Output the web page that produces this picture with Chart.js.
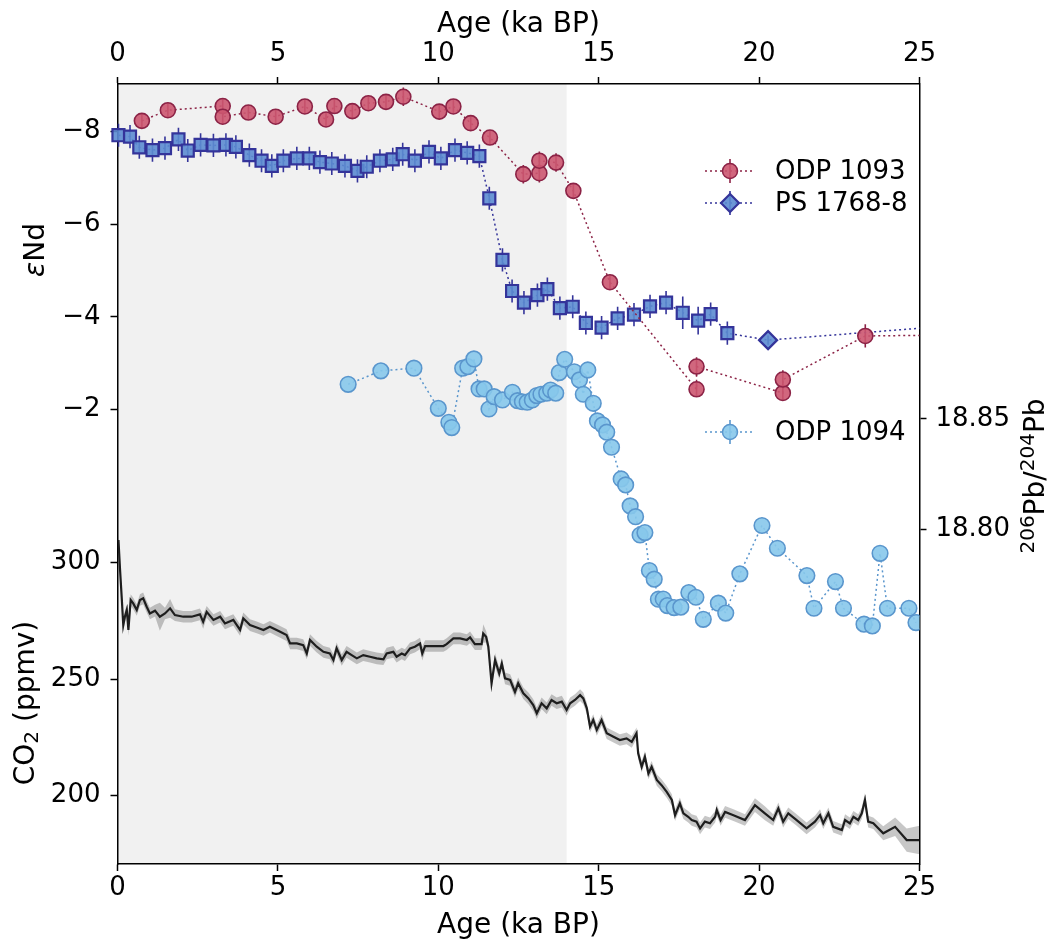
<!DOCTYPE html>
<html>
<head>
<meta charset="utf-8">
<script src="https://cdn.jsdelivr.net/npm/chart.js@4.4.0/dist/chart.umd.min.js"></script>
<style>
  body { margin: 0; background: #fff; }
  #wrap { width: 1052px; height: 947px; }
</style>
</head>
<body>
<div id="wrap"><canvas id="myChart" width="1052" height="947"></canvas></div>
<script>
// tick labels
var ageTicks = [0, 5, 10, 15, 20, 25];
var ndTicks = [-8, -6, -4, -2];
var co2Ticks = [300, 250, 200];
var pbTicks = [18.80, 18.85];

// ODP 1093 (eNd)
var odp1093Age = [0.76, 1.57, 3.28, 3.28, 4.08, 4.93, 5.84, 6.50, 6.76, 7.32,
                  7.82, 8.37, 8.91, 10.03, 10.47, 11.01, 11.61, 12.65, 13.15, 13.15,
                  13.67, 14.21, 15.35, 18.05, 18.05, 20.74, 20.74, 23.31, 27.5];
var odp1093Nd = [-8.23, -8.46, -8.55, -8.32, -8.41, -8.32, -8.54, -8.26, -8.55, -8.44,
                 -8.61, -8.64, -8.75, -8.43, -8.54, -8.18, -7.87, -7.08, -7.10, -7.37,
                 -7.33, -6.72, -4.75, -2.44, -2.93, -2.36, -2.65, -3.59, -3.62];
var odp1093Err = [0.15, 0.15, 0.15, 0.15, 0.15, 0.15, 0.15, 0.15, 0.15, 0.15,
                  0.15, 0.15, 0.2, 0.15, 0.15, 0.15, 0.15, 0.2, 0.2, 0.2,
                  0.2, 0.15, 0.15, 0.15, 0.2, 0.15, 0.2, 0.25, 0.2];

// PS 1768-8 (eNd)
var ps1768Age = [0.03, 0.39, 0.68, 1.09, 1.48, 1.90, 2.19, 2.59, 2.99, 3.38,
                 3.69, 4.11, 4.49, 4.81, 5.17, 5.59, 5.98, 6.31, 6.68, 7.09,
                 7.48, 7.77, 8.18, 8.58, 8.89, 9.27, 9.71, 10.08, 10.52, 10.90,
                 11.28, 11.59, 12.00, 12.30, 12.67, 13.09, 13.40, 13.79, 14.19, 14.60,
                 15.09, 15.59, 16.10, 16.60, 17.10, 17.62, 18.10, 18.49, 19.01, 20.28,
                 28.0];
var ps1768Nd = [-7.92, -7.89, -7.66, -7.60, -7.64, -7.83, -7.59, -7.71, -7.70, -7.71,
                -7.67, -7.49, -7.37, -7.26, -7.37, -7.42, -7.42, -7.34, -7.31, -7.26,
                -7.15, -7.24, -7.37, -7.40, -7.51, -7.37, -7.56, -7.42, -7.60, -7.54,
                -7.47, -6.56, -5.23, -4.56, -4.31, -4.47, -4.60, -4.19, -4.22, -3.87,
                -3.77, -3.97, -4.05, -4.23, -4.31, -4.09, -3.92, -4.06, -3.65, -3.50,
                -3.92];
var ps1768Err = [0.25, 0.25, 0.25, 0.25, 0.25, 0.25, 0.25, 0.25, 0.25, 0.25,
                 0.25, 0.25, 0.25, 0.25, 0.25, 0.25, 0.25, 0.25, 0.25, 0.25,
                 0.25, 0.25, 0.25, 0.25, 0.25, 0.25, 0.25, 0.25, 0.25, 0.25,
                 0.25, 0.25, 0.25, 0.25, 0.25, 0.25, 0.25, 0.25, 0.25, 0.25,
                 0.25, 0.25, 0.25, 0.25, 0.25, 0.35, 0.3, 0.25, 0.25, 0.1,
                 0.1];

// ODP 1094 (206Pb/204Pb)
var odp1094Age = [7.19, 8.21, 9.24, 10.00, 10.33, 10.42, 10.76, 10.92, 11.11, 11.27,
                  11.43, 11.58, 11.74, 12.00, 12.31, 12.47, 12.62, 12.77, 12.93, 13.07,
                  13.20, 13.38, 13.50, 13.66, 13.77, 13.94, 14.24, 14.40, 14.52, 14.66,
                  14.83, 14.96, 15.12, 15.25, 15.40, 15.70, 15.84, 15.98, 16.15, 16.29,
                  16.44, 16.58, 16.73, 16.86, 17.01, 17.14, 17.35, 17.56, 17.81, 18.03,
                  18.26, 18.73, 18.96, 19.40, 20.09, 20.57, 21.49, 21.71, 22.38, 22.63,
                  23.27, 23.53, 23.77, 24.00, 24.67, 24.89];
var odp1094Pb = [18.8657, 18.8718, 18.8730, 18.8548, 18.8485, 18.8461, 18.8730, 18.8737, 18.8772, 18.8636,
                 18.8636, 18.8545, 18.8601, 18.8586, 18.8621, 18.8583, 18.8578, 18.8576, 18.8586, 18.8606,
                 18.8612, 18.8617, 18.8631, 18.8617, 18.8710, 18.8770, 18.8714, 18.8677, 18.8612, 18.8722,
                 18.8571, 18.8491, 18.8473, 18.8440, 18.8372, 18.8228, 18.8201, 18.8106, 18.8057, 18.7974,
                 18.7985, 18.7813, 18.7774, 18.7683, 18.7684, 18.7654, 18.7645, 18.7647, 18.7713, 18.7692,
                 18.7592, 18.7665, 18.7620, 18.7798, 18.8017, 18.7914, 18.7790, 18.7642, 18.7763, 18.7642,
                 18.7570, 18.7562, 18.7891, 18.7642, 18.7642, 18.7577];

// CO2 (ppmv)
var co2Age = [0.03, 0.08, 0.13, 0.18, 0.23, 0.29, 0.34, 0.41, 0.49, 0.60,
              0.70, 0.80, 0.91, 1.01, 1.17, 1.32, 1.48, 1.64, 1.79, 2.05,
              2.31, 2.57, 2.67, 2.78, 2.99, 3.20, 3.35, 3.61, 3.82, 3.92,
              4.13, 4.34, 4.55, 4.75, 5.07, 5.27, 5.38, 5.59, 5.79, 5.90,
              6.00, 6.21, 6.42, 6.62, 6.73, 6.83, 6.99, 7.14, 7.30, 7.46,
              7.66, 7.87, 8.08, 8.29, 8.39, 8.60, 8.70, 8.86, 8.96, 9.12,
              9.27, 9.43, 9.50, 9.59, 9.84, 10.16, 10.26, 10.47, 10.68, 10.89,
              10.99, 11.14, 11.35, 11.40, 11.49, 11.56, 11.66, 11.77, 11.90, 11.98,
              12.08, 12.24, 12.39, 12.49, 12.65, 12.81, 12.96, 13.07, 13.22, 13.38,
              13.53, 13.69, 13.85, 14.00, 14.11, 14.26, 14.42, 14.52, 14.63, 14.73,
              14.83, 14.94, 15.09, 15.25, 15.46, 15.66, 15.87, 16.03, 16.18, 16.23,
              16.34, 16.44, 16.55, 16.65, 16.81, 16.96, 17.12, 17.28, 17.38, 17.53,
              17.64, 17.79, 17.90, 18.05, 18.16, 18.31, 18.47, 18.63, 18.68, 18.80,
              18.94, 19.20, 19.56, 19.87, 20.18, 20.44, 20.60, 20.75, 20.91, 21.17,
              21.48, 21.74, 21.90, 22.00, 22.16, 22.31, 22.58, 22.68, 22.83, 22.94,
              23.09, 23.20, 23.30, 23.40, 23.56, 23.87, 24.24, 24.60, 24.96, 25.00];
var co2Val = [309.8, 296.9, 285.4, 273.2, 276.8, 279.7, 271.1, 284.0, 282.5, 279.7,
              284.0, 284.7, 281.1, 278.2, 279.4, 276.8, 278.2, 280.4, 277.5, 276.8,
              276.8, 277.8, 274.6, 278.9, 275.4, 276.8, 273.9, 275.4, 271.1, 276.1,
              273.2, 272.2, 271.1, 272.5, 270.3, 268.9, 265.3, 265.3, 264.6, 261.0,
              266.8, 263.9, 261.7, 261.0, 258.2, 263.2, 258.2, 261.7, 260.3, 258.9,
              260.3, 259.6, 258.9, 258.5, 261.0, 261.7, 259.6, 261.0, 260.3, 263.2,
              263.9, 265.3, 261.0, 264.2, 264.2, 264.2, 265.0, 267.5, 267.5, 266.8,
              267.9, 265.0, 265.0, 269.6, 268.2, 263.9, 248.2, 258.2, 252.4, 256.7,
              250.3, 249.6, 244.5, 248.2, 243.9, 241.7, 238.8, 235.3, 239.6, 237.4,
              241.0, 239.6, 240.3, 236.7, 239.6, 241.0, 243.1, 241.7, 237.4, 229.5,
              232.4, 228.1, 232.4, 226.7, 225.2, 223.8, 224.5, 223.0, 226.7, 218.1,
              212.3, 216.6, 209.4, 212.3, 206.6, 204.4, 201.5, 198.0, 191.5, 196.6,
              192.3, 190.8, 189.4, 188.7, 185.8, 188.7, 188.0, 190.8, 193.7, 189.4,
              192.9, 191.5, 189.4, 195.8, 192.3, 189.4, 194.4, 188.7, 192.3, 189.4,
              185.8, 188.7, 191.5, 188.0, 192.3, 186.5, 185.1, 189.4, 188.0, 190.8,
              189.4, 192.3, 198.0, 188.7, 188.0, 183.7, 186.5, 180.8, 180.8, 180.8];
var co2Err = [2.5, 2.5, 2.5, 2.5, 2.5, 2.5, 2.5, 2.5, 2.5, 2.5,
              2.5, 2.5, 2.5, 2.5, 2.5, 6.0, 2.5, 4.0, 2.5, 2.5,
              2.5, 2.5, 3.0, 2.5, 2.5, 2.5, 2.5, 2.5, 2.5, 2.5,
              2.5, 2.5, 2.5, 2.5, 2.5, 2.5, 2.5, 2.5, 2.5, 2.5,
              2.5, 2.5, 2.5, 2.5, 2.5, 2.5, 2.5, 2.5, 2.5, 2.5,
              2.5, 2.5, 2.5, 2.5, 2.5, 2.5, 2.5, 2.5, 2.5, 2.5,
              2.5, 2.5, 3.0, 2.5, 2.5, 2.5, 2.5, 2.5, 2.5, 2.5,
              2.5, 2.5, 2.5, 4.0, 2.5, 2.5, 3.0, 3.0, 2.5, 2.5,
              2.5, 2.5, 2.5, 2.5, 2.5, 2.5, 2.5, 2.5, 2.5, 2.5,
              2.5, 2.5, 2.5, 2.5, 2.5, 2.5, 2.5, 2.5, 2.5, 2.5,
              2.5, 2.5, 2.5, 2.5, 2.5, 2.5, 2.5, 2.5, 2.5, 2.5,
              2.5, 2.5, 2.5, 2.5, 2.5, 2.5, 2.5, 2.5, 2.5, 2.5,
              2.5, 2.5, 2.5, 2.5, 2.5, 2.5, 2.5, 2.5, 2.5, 2.5,
              2.5, 2.5, 2.5, 3.0, 3.0, 2.5, 2.5, 2.5, 2.5, 2.5,
              2.5, 2.5, 2.5, 2.5, 2.5, 2.5, 2.5, 2.5, 2.5, 2.5,
              2.5, 2.5, 3.0, 2.5, 2.5, 3.0, 4.0, 5.0, 6.0, 6.0];

// axis ranges so that the stacked panels line up like the figure
var ND_MIN = -9.025, ND_MAX = 7.80;
var CO2_MIN = 170.5, CO2_MAX = 505.8;
var PB_MIN = 18.6483, PB_MAX = 19.0018;

var RED = 'rgba(204, 86, 112, 0.9)', RED_EDGE = '#8c2346';
var BLUE = 'rgba(92, 140, 210, 0.9)', BLUE_EDGE = '#34349a';
var SKY = 'rgba(135, 200, 235, 0.9)', SKY_EDGE = '#5a96cd';

function pts(xs, ys) {
    return xs.map(function(x, i) { return {x: x, y: ys[i]}; });
}
function co2ToNd(v) {
    return ND_MIN + (CO2_MAX - v) / (CO2_MAX - CO2_MIN) * (ND_MAX - ND_MIN);
}

var leftTicks = ndTicks.map(function(v) { return {value: v, label: '\u2212' + Math.abs(v)}; })
    .concat(co2Ticks.map(function(v) { return {value: co2ToNd(v), label: String(v)}; }));

var co2Hi = co2Val.map(function(v, i) { return v + co2Err[i]; });
var co2Lo = co2Val.map(function(v, i) { return v - co2Err[i]; });

Chart.defaults.font.family = "'DejaVu Sans', sans-serif";
Chart.defaults.color = '#000';

var tickFont = {size: 26};
var gridOpts = {drawOnChartArea: false, color: '#000', tickColor: '#000', tickWidth: 1.5, tickLength: 7};
var borderOpts = {color: '#000', width: 1.5};

var shade = {
    id: 'shade',
    beforeDraw: function(chart) {
        var a = chart.chartArea, x = chart.scales.x, ctx = chart.ctx;
        ctx.save();
        ctx.fillStyle = '#f1f1f1';
        var x0 = x.getPixelForValue(0), x1 = x.getPixelForValue(14);
        ctx.fillRect(x0, a.top, x1 - x0, a.bottom - a.top);
        ctx.restore();
    }
};

var errorBars = {
    id: 'errorBars',
    beforeDatasetsDraw: function(chart) {
        var ctx = chart.ctx, a = chart.chartArea;
        ctx.save();
        ctx.beginPath();
        ctx.rect(a.left - 10, a.top, a.right - a.left + 10, a.bottom - a.top);
        ctx.clip();
        chart.data.datasets.forEach(function(ds) {
            if (!ds.errs) return;
            var xs = chart.scales[ds.xAxisID || 'x'], ys = chart.scales[ds.yAxisID];
            ctx.strokeStyle = ds.borderColor;
            ctx.lineWidth = 1.6;
            ds.data.forEach(function(p, i) {
                var px = xs.getPixelForValue(p.x);
                ctx.beginPath();
                ctx.moveTo(px, ys.getPixelForValue(p.y - ds.errs[i]));
                ctx.lineTo(px, ys.getPixelForValue(p.y + ds.errs[i]));
                ctx.stroke();
            });
        });
        ctx.restore();
    }
};

function richText(ctx, parts, cx, cy, rot, size) {
    ctx.save();
    ctx.translate(cx, cy);
    ctx.rotate(rot);
    ctx.textBaseline = 'middle';
    ctx.textAlign = 'left';
    ctx.fillStyle = '#000';
    var total = 0;
    parts.forEach(function(p) {
        ctx.font = (p.italic ? 'italic ' : '') + Math.round(size * (p.scale || 1)) + "px 'DejaVu Sans'";
        p.w = ctx.measureText(p.t).width;
        total += p.w;
    });
    var x = -total / 2;
    parts.forEach(function(p) {
        ctx.font = (p.italic ? 'italic ' : '') + Math.round(size * (p.scale || 1)) + "px 'DejaVu Sans'";
        ctx.fillText(p.t, x, (p.dy || 0) * size);
        x += p.w;
    });
    ctx.restore();
}

function marker(ctx, style, x, y, r, fill, edge, bw) {
    ctx.beginPath();
    if (style === 'circle') {
        ctx.arc(x, y, r, 0, Math.PI * 2);
    } else if (style === 'rectRot') {
        ctx.moveTo(x, y - r); ctx.lineTo(x + r, y); ctx.lineTo(x, y + r); ctx.lineTo(x - r, y); ctx.closePath();
    }
    ctx.fillStyle = fill;
    ctx.fill();
    ctx.lineWidth = bw;
    ctx.strokeStyle = edge;
    ctx.stroke();
}

var annotate = {
    id: 'annotate',
    afterDraw: function(chart) {
        var ctx = chart.ctx;
        // legend
        var items = [
            {label: 'ODP 1093', y: 171, style: 'circle', r: 7.5, fill: RED, edge: RED_EDGE},
            {label: 'PS 1768-8', y: 203, style: 'rectRot', r: 9, fill: BLUE, edge: BLUE_EDGE},
            {label: 'ODP 1094', y: 432, style: 'circle', r: 7.5, fill: SKY, edge: SKY_EDGE}
        ];
        items.forEach(function(it) {
            ctx.save();
            ctx.strokeStyle = it.edge;
            ctx.lineWidth = 1.5;
            ctx.setLineDash([2, 3]);
            ctx.beginPath();
            ctx.moveTo(705, it.y); ctx.lineTo(755, it.y);
            ctx.stroke();
            ctx.setLineDash([]);
            ctx.lineWidth = 1.6;
            ctx.beginPath();
            ctx.moveTo(730, it.y - 12); ctx.lineTo(730, it.y + 12);
            ctx.stroke();
            marker(ctx, it.style, 730, it.y, it.r, it.fill, it.edge, it.style === 'rectRot' ? 2.2 : 1.5);
            ctx.fillStyle = '#000';
            ctx.font = "26px 'DejaVu Sans'";
            ctx.textBaseline = 'middle';
            ctx.textAlign = 'left';
            ctx.fillText(it.label, 775, it.y + 1);
            ctx.restore();
        });
        // y axis titles
        richText(ctx, [{t: '\u03b5', italic: true}, {t: 'Nd'}], 37, 250, -Math.PI / 2, 28);
        richText(ctx, [{t: 'CO'}, {t: '2', scale: 0.7, dy: 0.22}, {t: ' (ppmv)'}], 27, 703, -Math.PI / 2, 28);
        richText(ctx, [{t: '206', scale: 0.7, dy: -0.3}, {t: 'Pb/'}, {t: '204', scale: 0.7, dy: -0.3}, {t: 'Pb'}],
                 1037, 476, -Math.PI / 2, 28);
    }
};

var ctx = document.getElementById('myChart').getContext('2d');
var myChart = new Chart(ctx, {
    type: 'line',
    data: {
        datasets: [{
            label: 'ODP 1093',
            data: pts(odp1093Age, odp1093Nd),
            errs: odp1093Err,
            yAxisID: 'ynd',
            borderColor: RED_EDGE,
            borderWidth: 1.5,
            borderDash: [2, 3],
            pointStyle: 'circle',
            pointRadius: 7.5,
            pointBorderWidth: 1.6,
            pointBackgroundColor: RED,
            pointBorderColor: RED_EDGE,
            clip: {left: 10, top: 0, right: 0, bottom: 0}
        }, {
            label: 'PS 1768-8',
            data: pts(ps1768Age, ps1768Nd),
            errs: ps1768Err,
            yAxisID: 'ynd',
            borderColor: BLUE_EDGE,
            borderWidth: 1.5,
            borderDash: [2, 3],
            pointStyle: function(c) { return c.dataIndex >= 49 ? 'rectRot' : 'rect'; },
            pointRadius: function(c) { return c.dataIndex >= 49 ? 9 : 8.5; },
            pointBorderWidth: 2.2,
            pointBackgroundColor: BLUE,
            pointBorderColor: BLUE_EDGE,
            clip: {left: 10, top: 0, right: 0, bottom: 0}
        }, {
            label: 'ODP 1094',
            data: pts(odp1094Age, odp1094Pb),
            yAxisID: 'ypb',
            borderColor: SKY_EDGE,
            borderWidth: 1.5,
            borderDash: [2, 3],
            pointStyle: 'circle',
            pointRadius: 7.8,
            pointBorderWidth: 1.6,
            pointBackgroundColor: SKY,
            pointBorderColor: SKY_EDGE
        }, {
            label: 'CO2',
            data: pts(co2Age, co2Val),
            yAxisID: 'yco2',
            borderColor: '#1e1e1e',
            borderWidth: 2.2,
            pointRadius: 0
        }, {
            label: 'CO2 high',
            data: pts(co2Age, co2Hi),
            yAxisID: 'yco2',
            borderWidth: 0,
            pointRadius: 0,
            backgroundColor: 'rgba(0, 0, 0, 0.22)',
            fill: '+1'
        }, {
            label: 'CO2 low',
            data: pts(co2Age, co2Lo),
            yAxisID: 'yco2',
            borderWidth: 0,
            pointRadius: 0
        }]
    },
    options: {
        responsive: false,
        animation: false,
        layout: {padding: 0},
        plugins: {legend: {display: false}, tooltip: {enabled: false}},
        elements: {line: {tension: 0}},
        scales: {
            x: {
                type: 'linear', position: 'bottom', min: 0, max: 25,
                afterBuildTicks: function(s) { s.ticks = ageTicks.map(function(v) { return {value: v}; }); },
                afterFit: function(s) { s.height = 83; },
                ticks: {font: tickFont, color: '#000', padding: 2, autoSkip: false, maxRotation: 0,
                        callback: function(v) { return String(v); }},
                grid: gridOpts, border: borderOpts,
                title: {display: true, text: 'Age (ka BP)', font: {size: 28}, color: '#000', padding: {top: 0, bottom: 4}}
            },
            x2: {
                type: 'linear', position: 'top', min: 0, max: 25,
                afterBuildTicks: function(s) { s.ticks = ageTicks.map(function(v) { return {value: v}; }); },
                afterFit: function(s) { s.height = 84; },
                ticks: {font: tickFont, color: '#000', padding: 7, autoSkip: false, maxRotation: 0,
                        callback: function(v) { return String(v); }},
                grid: gridOpts, border: borderOpts,
                title: {display: true, text: 'Age (ka BP)', font: {size: 28}, color: '#000', padding: {top: 8, bottom: 0}}
            },
            ynd: {
                type: 'linear', position: 'left', reverse: true, min: ND_MIN, max: ND_MAX,
                afterBuildTicks: function(s) { s.ticks = leftTicks.map(function(t) { return {value: t.value}; }); },
                afterFit: function(s) { s.width = 117.5; },
                ticks: {font: tickFont, color: '#000', padding: 10, autoSkip: false,
                        callback: function(v, i) { return leftTicks[i].label; }},
                grid: gridOpts, border: borderOpts
            },
            yco2: {type: 'linear', display: false, min: CO2_MIN, max: CO2_MAX},
            ypb: {
                type: 'linear', position: 'right', min: PB_MIN, max: PB_MAX,
                afterBuildTicks: function(s) { s.ticks = pbTicks.map(function(v) { return {value: v}; }); },
                afterFit: function(s) { s.width = 132.5; },
                ticks: {font: tickFont, color: '#000', padding: 9, autoSkip: false,
                        callback: function(v) { return v.toFixed(2); }},
                grid: gridOpts, border: borderOpts
            }
        }
    },
    plugins: [shade, errorBars, annotate]
});
</script>
</body>
</html>
